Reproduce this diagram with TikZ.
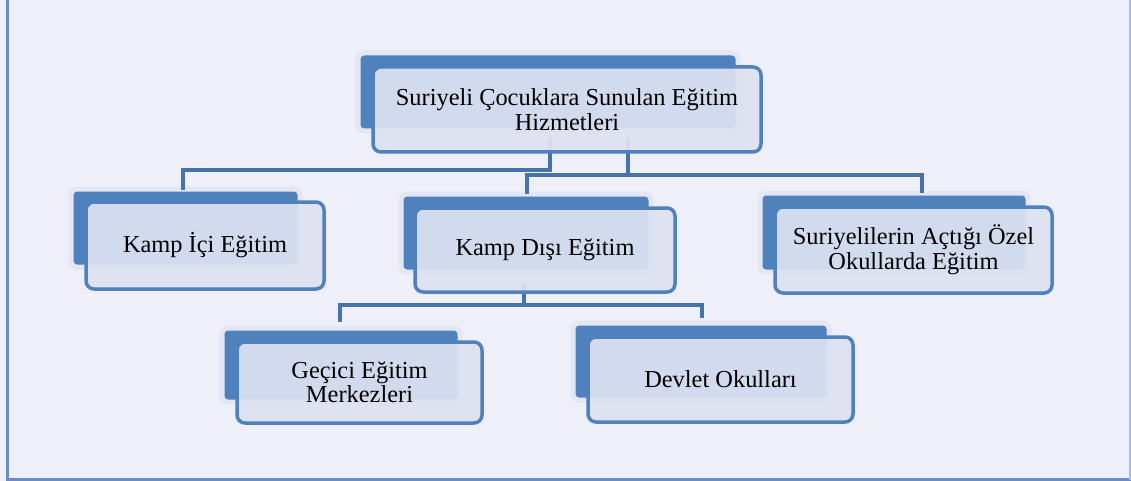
\documentclass[tikz,border=0pt]{standalone}
\usepackage{fontspec}
\setmainfont{Liberation Serif}
\definecolor{bg}{HTML}{EFEFF9}
\definecolor{backblue}{HTML}{4F81BD}
\definecolor{halo}{HTML}{E3E6F3}
\definecolor{frontfill}{HTML}{DDE2F1}
\definecolor{connblue}{HTML}{4673A9}
\definecolor{frameblue}{HTML}{6A8DC6}
\definecolor{frameright}{HTML}{A9BEE0}
\begin{document}
\begin{tikzpicture}[x=1pt,y=-1pt,
  backbox/.style={rectangle, rounded corners=6pt, fill=backblue, draw=halo, line width=5pt, inner sep=0pt},
  frontbox/.style={rectangle, rounded corners=8pt, fill=frontfill, fill opacity=0.93, text opacity=1, draw=backblue, draw opacity=1, line width=3.5pt, inner sep=0pt, align=center, font=\fontsize{24.4}{25}\selectfont},
  conn/.style={draw=connblue, line width=4pt}
]
\useasboundingbox (0,0) rectangle (1131,481);
\fill[bg] (0,0) rectangle (1131,481);
% frame
\coordinate (f1) at (7,0);
\coordinate (f2) at (7,479.5);
\coordinate (f3) at (1131,479.5);
\coordinate (f4) at (1130,0);
\coordinate (f5) at (1130,479.5);
\draw[frameblue, line width=3pt] (f1) -- (f2) -- (f3);
\draw[frameright, line width=1.5pt] (f4) -- (f5);

% back boxes
\node[backbox, minimum width=380pt, minimum height=78pt] (bT) at (548,92) {};
\node[backbox, minimum width=229pt, minimum height=78pt] (bA) at (185.5,228) {};
\node[backbox, minimum width=250pt, minimum height=78pt] (bB) at (526,233) {};
\node[backbox, minimum width=268pt, minimum height=79pt] (bC) at (894,232.5) {};
\node[backbox, minimum width=238pt, minimum height=74pt] (bD) at (341,365) {};
\node[backbox, minimum width=256pt, minimum height=77pt] (bE) at (701,361.5) {};

% connector coordinates
\coordinate (s1) at (550,137);
\coordinate (s2) at (628,137);
\coordinate (tA) at (183,190);
\coordinate (tB) at (527,194);
\coordinate (tC) at (922,193);
\coordinate (s3) at (524,283);
\coordinate (tD) at (340,322);
\coordinate (tE) at (702,318);

\draw[conn] (s1) |- (183,170) -- (tA);
\draw[conn] (s2) |- (922,175) -- (tC);
\draw[conn] (s2 |- 0,175) -- (527,175) -- (tB);
\draw[conn] (s3) |- (340,305) -- (tD);
\draw[conn] (s3 |- 0,305) -| (tE);

% front boxes
\node[frontbox, minimum width=388pt, minimum height=85pt] (T) at (567,109.5) {Suriyeli Çocuklara Sunulan Eğitim\\Hizmetleri};
\node[frontbox, minimum width=238pt, minimum height=87pt] (A) at (205,245.5) {Kamp İçi Eğitim};
\node[frontbox, minimum width=260pt, minimum height=84pt] (B) at (545,250) {Kamp Dışı Eğitim};
\node[frontbox, minimum width=277pt, minimum height=86pt] (C) at (913.5,250) {Suriyelilerin Açtığı Özel\\Okullarda Eğitim};
\node[frontbox, minimum width=245pt, minimum height=81pt, font=\fontsize{24.4}{23.5}\selectfont] (D) at (359.5,382.5) {Geçici Eğitim\\Merkezleri};
\node[frontbox, minimum width=265pt, minimum height=85pt] (E) at (720.5,379.5) {Devlet Okulları};
\end{tikzpicture}
\end{document}
